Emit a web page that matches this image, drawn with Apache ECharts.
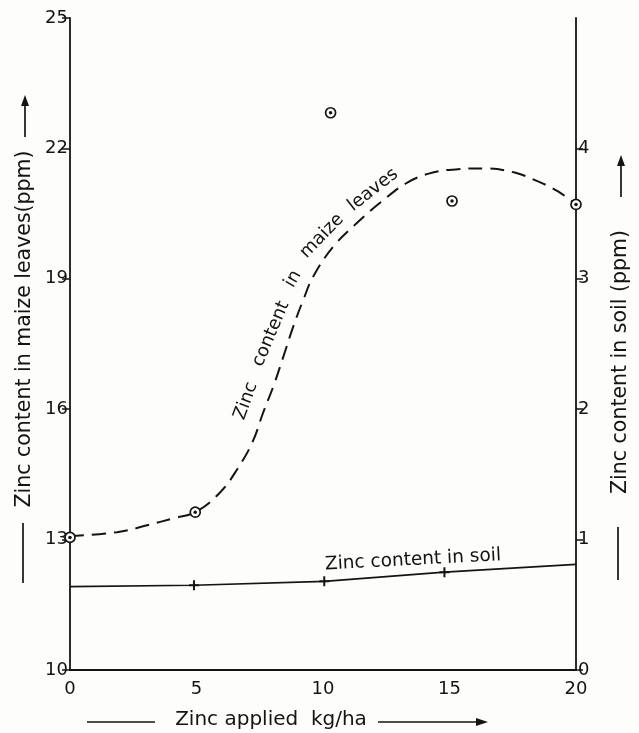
<!DOCTYPE html>
<html>
<head>
    <meta charset="UTF-8">
    <title>Zinc content</title>
    <script src="https://cdn.jsdelivr.net/npm/echarts@6/dist/echarts.min.js"></script>
    <style>
        html, body { margin: 0; padding: 0; background: #fdfdfc; }
        #main { width: 639px; height: 733px; }
    </style>
</head>
<body>
    <div id="main"></div>
    <script type="text/javascript">
        // dashed curve, zinc in maize leaves (left axis)
        var curveX = [0, 1.86, 3.05, 4.08, 4.95, 5.94, 6.61, 7.21, 7.64, 8.04, 8.44, 8.83, 9.23, 9.62, 10.42, 11.37, 12.28, 13.35, 14.38, 15.33, 16.36, 17.54, 18.5, 19.29, 20];
        var curveY = [13.08, 13.17, 13.33, 13.49, 13.63, 14.09, 14.62, 15.24, 15.93, 16.53, 17.22, 17.91, 18.53, 19.06, 19.75, 20.3, 20.76, 21.22, 21.45, 21.52, 21.54, 21.45, 21.24, 21.01, 20.71];
        // observed points, maize leaves
        var leafX = [0, 4.95, 10.3, 15.1, 20];
        var leafY = [13.05, 13.63, 22.82, 20.79, 20.71];
        // zinc in soil (right axis)
        var soilX = [0, 4.9, 10.05, 14.8, 20];
        var soilY = [0.64, 0.65, 0.68, 0.75, 0.81];
        // tick labels
        var xTicks = [0, 5, 10, 15, 20];
        var leftTicks = [10, 13, 16, 19, 22, 25];
        var rightTicks = [0, 1, 2, 3, 4];

        var ink = '#141414';
        var fam = 'DejaVu Sans';
        var plus = 'path://M0,4H10V6H0Z M4,0H6V10H4Z';

        var curveData = curveX.map(function (x, i) { return [x, curveY[i]]; });
        var leafData = leafX.map(function (x, i) { return [x, leafY[i]]; });
        var soilData = soilX.map(function (x, i) {
            return { value: [x, soilY[i]], symbol: (i > 0 && i < 4) ? plus : 'none' };
        });

        function word(txt, x, y, deg, size) {
            return {
                type: 'text', x: x, y: y, rotation: deg * Math.PI / 180,
                style: { text: txt, fill: ink, fontSize: size || 18, fontFamily: fam, align: 'center', verticalAlign: 'middle' }
            };
        }
        function seg(x1, y1, x2, y2) {
            return { type: 'line', shape: { x1: x1, y1: y1, x2: x2, y2: y2 }, style: { stroke: ink, lineWidth: 1.7 } };
        }
        function head(pts) {
            return { type: 'polygon', shape: { points: pts }, style: { fill: ink } };
        }

        var myChart = echarts.init(document.getElementById('main'));
        myChart.setOption({
            animation: false,
            backgroundColor: '#fdfdfc',
            grid: { left: 70, right: 63, top: 18, bottom: 63, containLabel: false, outerBoundsMode: 'none' },
            xAxis: {
                type: 'value', min: 0, max: 20, interval: 5,
                splitLine: { show: false },
                axisTick: { show: false },
                axisLine: { lineStyle: { color: ink, width: 1.8 } },
                axisLabel: { color: ink, fontSize: 18, fontFamily: fam, margin: 10, customValues: xTicks }
            },
            yAxis: [{
                type: 'value', min: 10, max: 25,
                splitLine: { show: false },
                axisLine: { show: true, onZero: false, lineStyle: { color: ink, width: 1.8 } },
                axisTick: { show: true, length: 8, lineStyle: { color: ink, width: 1.5 }, customValues: leftTicks },
                axisLabel: { color: ink, fontSize: 18, fontFamily: fam, margin: 2, customValues: leftTicks }
            }, {
                type: 'value', min: 0, max: 5, position: 'right',
                splitLine: { show: false },
                axisLine: { show: true, onZero: false, lineStyle: { color: ink, width: 1.8 } },
                axisTick: { show: true, length: 7, lineStyle: { color: ink, width: 1.5 }, customValues: rightTicks },
                axisLabel: { color: ink, fontSize: 18, fontFamily: fam, margin: 2, customValues: rightTicks }
            }],
            series: [{
                name: 'maize curve',
                type: 'line',
                data: curveData,
                smooth: 0.4,
                showSymbol: false,
                lineStyle: { color: ink, width: 2, type: [14, 8] },
                z: 2
            }, {
                name: 'maize leaves',
                type: 'scatter',
                data: leafData,
                symbol: 'circle',
                symbolSize: 10,
                itemStyle: { color: '#fdfdfc', borderColor: ink, borderWidth: 1.7, opacity: 1 },
                z: 3
            }, {
                name: 'maize dot',
                type: 'scatter',
                data: leafData,
                symbol: 'circle',
                symbolSize: 3.5,
                itemStyle: { color: ink, opacity: 1 },
                z: 4
            }, {
                name: 'soil',
                type: 'line',
                yAxisIndex: 1,
                data: soilData,
                symbolSize: 10,
                showAllSymbol: true,
                itemStyle: { color: ink },
                lineStyle: { color: ink, width: 1.7 },
                z: 3
            }],
            graphic: [
                // labels along the lines
                word('Zinc', 246, 401, 70),
                word('content', 271, 334, 67),
                word('in', 293, 279, 60),
                word('maize', 322, 236, 46),
                word('leaves', 373, 190, 38),
                word('Zinc content in soil', 413, 560, 3, 18.5),
                // left axis title
                word('Zinc content in maize leaves(ppm)', 25, 329, 90, 20.5),
                seg(23, 523, 23, 583),
                seg(25, 137, 25, 100),
                head([[21, 106], [25, 95], [29, 106]]),
                // right axis title
                word('Zinc content in soil (ppm)', 621, 362, 90, 20.5),
                seg(618, 527, 618, 580),
                seg(621, 197, 621, 160),
                head([[617, 166], [621, 155], [625, 166]]),
                // x axis title
                word('Zinc applied  kg/ha', 271, 720, 0, 20),
                seg(87, 722, 155, 722),
                seg(378, 722, 480, 722),
                head([[476, 718], [488, 722], [476, 726]])
            ]
        });
    </script>
</body>
</html>
